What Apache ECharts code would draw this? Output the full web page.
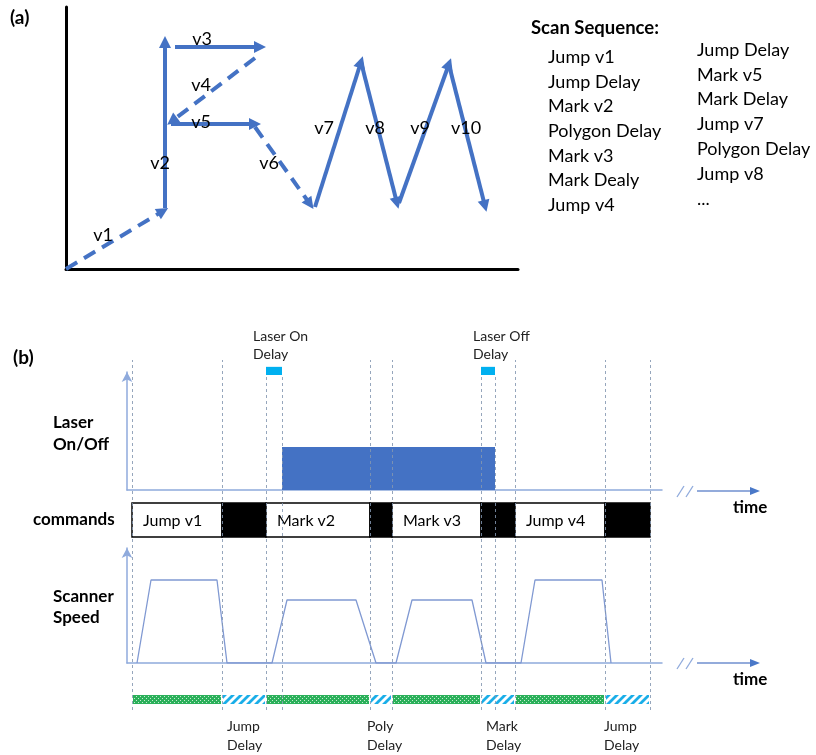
<!DOCTYPE html>
<html><head><meta charset="utf-8">
<script src="https://cdn.jsdelivr.net/npm/echarts@6/dist/echarts.min.js"></script>
<style>html,body{margin:0;padding:0;background:#fff}#c{width:816px;height:755px}</style>
</head><body><div id="c"></div>
<script>
// ---------- (a) scan path (data units of panel a) ----------
const vectorNames  = ['v1','v2','v3','v4','v5','v6','v7','v8','v9','v10'];
const vectorDashed = [true,false,false,true,false,true,false,false,false,false];
const vectorStart  = [[0,0],[99,61],[109,222],[189,211],[105,145],[189,142],[249,62],[295,207],[333,66],[383,204]];
const vectorEnd    = [[97,58],[99,227],[194,222],[106,148],[189,145],[244,65],[295,207],[331,66],[383,205],[419,63]];
const vectorLabelAt= [[37,34],[94,106],[136,230],[135,184],[135,147],[203,106],[258,141],[309,141],[354,141],[400,141]];

const seqCol1 = ['Jump v1','Jump Delay','Mark v2','Polygon Delay','Mark v3','Mark Dealy','Jump v4'];
const seqCol2 = ['Jump Delay','Mark v5','Mark Delay','Jump v7','Polygon Delay','Jump v8','...'];

// ---------- (b) timing (time units) ----------
const phaseBounds  = [0,90,134,238,260,349,383,473,518];
const phaseLabels  = ['Jump v1','Jump Delay','Mark v2','Poly Delay','Mark v3','Mark Delay','Jump v4','Jump Delay'];
const phaseIsDelay = [false,true,false,true,false,true,false,true];
const delayLabelT  = [95,235,354,472];

const laserOn        = [150,363];
const laserOnLevel   = 1;
const laserDelays    = [[134,150],[349,363]];
const laserDelayName = ['Laser On\nDelay','Laser Off\nDelay'];
const laserDelayLabelT = [121,341];

const speedT = [5,19,85,95, 140,155,224,244, 264,280,340,354, 389,403,470,479];
const speedV = [0,83,83,0,  0,63,63,0,       0,63,63,0,       0,83,83,0];

const guideTimes     = [0,90,238,260,383,473,518];
const delayEdgeTimes = [134,150,349,363];

// ---------- styling ----------
const BLUE='#4472c4', AXISB='#8faadc', GUIDE='#8497b0', CYAN='#00b0f0';
const FONT='Lato, "Open Sans", sans-serif';
const T0=-5, T1=530;

function makeHatch(){
  const c=document.createElement('canvas');c.width=8;c.height=8;
  const g=c.getContext('2d');g.fillStyle='#fff';g.fillRect(0,0,8,8);
  g.strokeStyle='#1aaee8';g.lineWidth=2.8;g.beginPath();
  g.moveTo(-2,10);g.lineTo(10,-2);g.moveTo(-2,2);g.lineTo(2,-2);g.moveTo(6,10);g.lineTo(10,6);g.stroke();
  return c;
}
function makeDots(){
  const c=document.createElement('canvas');c.width=4;c.height=4;
  const g=c.getContext('2d');g.fillStyle='#2bb05a';g.fillRect(0,0,4,4);
  g.fillStyle='#c4ead0';g.fillRect(0,0,1,1);g.fillRect(2,2,1,1);
  return c;
}
const hatchFill={type:'pattern',image:makeHatch(),repeat:'repeat'};
const dotFill={type:'pattern',image:makeDots(),repeat:'repeat'};

function hiddenAxis(extra){return Object.assign({type:'value',show:false,splitLine:{show:false}},extra);}
function lineAxis(extra,color,width,arrow){
  return Object.assign({type:'value',axisLine:{show:true,onZero:false,symbol:arrow?['none','arrow']:'none',symbolSize:[8,10],lineStyle:{color:color,width:width}},
    axisTick:{show:false},axisLabel:{show:false},splitLine:{show:false}},extra);
}

const grids=[
  {left:66,top:7,width:452,height:262},      // a
  {left:127,top:372,width:535,height:118},   // laser
  {left:127,top:503,width:535,height:34},    // commands
  {left:127,top:548,width:535,height:115},   // speed
  {left:127,top:695,width:535,height:9},     // bar
  {left:127,top:360,width:535,height:350}    // overlay guides
];
const xAxes=[
  lineAxis({gridIndex:0,min:0,max:452},'#000',3,false),
  lineAxis({gridIndex:1,min:T0,max:T1},AXISB,1.5,false),
  hiddenAxis({gridIndex:2,min:T0,max:T1}),
  lineAxis({gridIndex:3,min:T0,max:T1},AXISB,1.5,false),
  hiddenAxis({gridIndex:4,min:T0,max:T1}),
  hiddenAxis({gridIndex:5,min:T0,max:T1})
];
const yAxes=[
  lineAxis({gridIndex:0,min:0,max:262},'#000',3,false),
  lineAxis({gridIndex:1,min:0,max:2.75},AXISB,1.5,true),
  hiddenAxis({gridIndex:2,min:0,max:1}),
  lineAxis({gridIndex:3,min:0,max:115},AXISB,1.5,true),
  hiddenAxis({gridIndex:4,min:0,max:1}),
  hiddenAxis({gridIndex:5,min:0,max:350})
];

function txt(text,x,y,opt){
  opt=opt||{};
  return {type:'text',z:50,style:{text:text,x:x,y:y,font:opt.font||('16px '+FONT),fill:opt.fill||'#000',
    textAlign:opt.align||'left',align:opt.align||'left',textVerticalAlign:opt.va||'middle',verticalAlign:opt.va||'middle',lineHeight:opt.lh||20}};
}

const series=[];
// (a) arrows
series.push({type:'lines',coordinateSystem:'cartesian2d',xAxisIndex:0,yAxisIndex:0,
  symbol:['none','triangle'],symbolSize:[13,12],silent:true,z:5,
  lineStyle:{color:BLUE,width:4,opacity:1},
  data:vectorNames.map((n,i)=>({coords:[vectorStart[i],vectorEnd[i]],
    lineStyle:{color:BLUE,width:4,type:vectorDashed[i]?[13,8]:'solid'}}))});
// (a) labels
series.push({type:'custom',xAxisIndex:0,yAxisIndex:0,z:6,
  data:vectorLabelAt.map((p,i)=>[p[0],p[1],i]),
  renderItem:function(params,api){
    const p=api.coord([api.value(0),api.value(1)]);
    return {type:'text',style:{text:vectorNames[params.dataIndex],x:p[0],y:p[1],font:'18px '+FONT,fill:'#000',
      textAlign:'center',align:'center',textVerticalAlign:'middle',verticalAlign:'middle'}};
  }});
// laser on block + delay markers
series.push({type:'custom',xAxisIndex:1,yAxisIndex:1,z:3,clip:false,
  data:[[laserOn[0],laserOn[1]]],
  renderItem:function(params,api){
    const a=api.coord([api.value(0),laserOnLevel]),b=api.coord([api.value(1),0]);
    return {type:'rect',shape:{x:a[0],y:a[1],width:b[0]-a[0],height:b[1]-a[1]},style:{fill:BLUE}};
  }});
series.push({type:'custom',xAxisIndex:1,yAxisIndex:1,z:3,clip:false,
  data:laserDelays.map((d,i)=>[d[0],d[1],laserDelayLabelT[i]]),
  renderItem:function(params,api){
    const a=api.coord([api.value(0),2.87]),b=api.coord([api.value(1),2.68]);
    const l=api.coord([api.value(2),2.87]);
    return {type:'group',children:[
      {type:'rect',shape:{x:a[0],y:a[1],width:b[0]-a[0],height:b[1]-a[1]},style:{fill:CYAN}},
      {type:'text',style:{text:laserDelayName[params.dataIndex],x:l[0],y:a[1]-3,font:'14px '+FONT,fill:'#222',
        textAlign:'left',align:'left',textVerticalAlign:'bottom',verticalAlign:'bottom',lineHeight:18}}
    ]};
  }});
// commands row
series.push({type:'custom',xAxisIndex:2,yAxisIndex:2,z:3,clip:false,
  data:phaseLabels.map((n,i)=>[phaseBounds[i],phaseBounds[i+1]]),
  renderItem:function(params,api){
    const i=params.dataIndex;
    const s=api.coord([api.value(0),1]),e=api.coord([api.value(1),0]);
    const d=phaseIsDelay[i];
    const ch=[{type:'rect',shape:{x:s[0],y:s[1],width:e[0]-s[0],height:e[1]-s[1]},style:{fill:d?'#000':'#fff',stroke:'#000',lineWidth:1.5}}];
    if(!d) ch.push({type:'text',style:{text:phaseLabels[i],x:s[0]+11,y:(s[1]+e[1])/2+1,font:'16px '+FONT,fill:'#000',
      textAlign:'left',align:'left',textVerticalAlign:'middle',verticalAlign:'middle'}});
    return {type:'group',children:ch};
  }});
// scanner speed
series.push({type:'line',xAxisIndex:3,yAxisIndex:3,z:4,symbol:'none',silent:true,
  data:speedT.map((t,i)=>[t,speedV[i]]),lineStyle:{color:'#8099d2',width:1.3}});
// bottom bar
series.push({type:'custom',xAxisIndex:4,yAxisIndex:4,z:3,clip:false,
  data:phaseLabels.map((n,i)=>[phaseBounds[i],phaseBounds[i+1]]),
  renderItem:function(params,api){
    const i=params.dataIndex;
    const s=api.coord([api.value(0),1]),e=api.coord([api.value(1),0]);
    const d=phaseIsDelay[i];
    const ch=[{type:'rect',shape:{x:s[0]+1,y:s[1],width:e[0]-s[0]-2,height:e[1]-s[1]},style:{fill:d?hatchFill:dotFill}}];
    if(d){
      const k=phaseIsDelay.slice(0,i).filter(Boolean).length;
      const p=api.coord([delayLabelT[k],0]);
      ch.push({type:'text',style:{text:phaseLabels[i].replace(' ','\n'),x:p[0],y:e[1]+13,font:'14px '+FONT,fill:'#222',
        textAlign:'left',align:'left',textVerticalAlign:'top',verticalAlign:'top',lineHeight:19}});
    }
    return {type:'group',children:ch};
  }});
// guides
series.push({type:'custom',xAxisIndex:5,yAxisIndex:5,z:20,clip:false,
  data:guideTimes.map(t=>[t,350]).concat(delayEdgeTimes.map(t=>[t,335])),
  renderItem:function(params,api){
    const a=api.coord([api.value(0),0]),b=api.coord([api.value(0),api.value(1)]);
    const x=Math.round(a[0])+0.5;
    return {type:'line',shape:{x1:x,y1:a[1],x2:x,y2:b[1]},style:{stroke:GUIDE,lineWidth:1,lineDash:[3,3],opacity:0.85}};
  }});

// annotations
const graphic=[];
graphic.push(txt('(a)',10,18,{font:'bold 19px '+FONT}));
graphic.push(txt('(b)',13,358,{font:'bold 19px '+FONT}));
graphic.push(txt('Scan Sequence:',531,28,{font:'bold 18.5px '+FONT}));
seqCol1.forEach((s,i)=>graphic.push(txt(s,548,57+i*24.7,{font:'18px '+FONT})));
seqCol2.forEach((s,i)=>graphic.push(txt(s,697,50+i*24.8,{font:'18px '+FONT})));
graphic.push(txt('Laser\nOn/Off',53,412,{font:'bold 17px '+FONT,va:'top',lh:22}));
graphic.push(txt('commands',33,520,{font:'bold 17px '+FONT}));
graphic.push(txt('Scanner\nSpeed',53,586,{font:'bold 17px '+FONT,va:'top',lh:21}));
[491,663].forEach(function(y,k){
  graphic.push({type:'line',shape:{x1:677,y1:y+6,x2:684,y2:y-5},style:{stroke:AXISB,lineWidth:1.3}});
  graphic.push({type:'line',shape:{x1:686,y1:y+6,x2:693,y2:y-5},style:{stroke:AXISB,lineWidth:1.3}});
  graphic.push({type:'line',shape:{x1:697,y1:y,x2:752,y2:y},style:{stroke:'#6f8fcf',lineWidth:1.5}});
  graphic.push({type:'polygon',shape:{points:[[750,y-4],[760,y],[750,y+4]]},style:{fill:'#4a78c8'}});
  graphic.push(txt('time',733,y+17,{font:'bold 17px '+FONT}));
});

const chart=echarts.init(document.getElementById('c'));
chart.setOption({animation:false,backgroundColor:'#fff',grid:grids,xAxis:xAxes,yAxis:yAxes,series:series,graphic:graphic});
</script></body></html>
